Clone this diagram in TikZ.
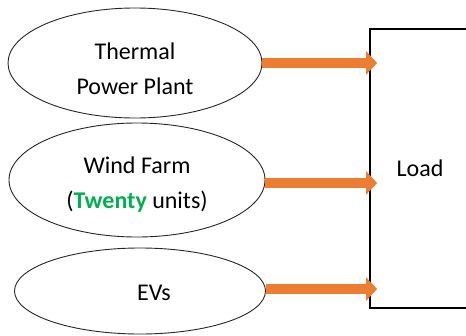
\documentclass[tikz,border=0pt]{standalone}
\usepackage{fontspec}
\setmainfont{Carlito}
\usetikzlibrary{shapes.geometric,arrows.meta}
\definecolor{Dorange}{HTML}{ED7D31}
\definecolor{Dgreen}{HTML}{00B050}
\tikzset{%
    Dsource/.style={shape=ellipse,draw=black!85,line width=0.9pt,inner sep=0pt},
    Dtext/.style={align=center,inner sep=0pt,font=\fontsize{24}{35}\selectfont},
    Dload/.style={shape=rectangle,draw=black,line width=1.8pt,inner sep=0pt,
        font=\fontsize{24}{35}\selectfont},
    Dflow/.style={draw=Dorange,line width=10pt,-{Triangle[length=11pt,width=23pt]},shorten >=-8pt}
}

\begin{document}
\begin{tikzpicture}[x=1pt,y=-1pt]
        \clip (0,0) rectangle (466,335);
        \path
            (135,63) node [Dsource,minimum width=254pt,minimum height=110pt,
                label={[Dtext,yshift=-6pt]center:Thermal\\Power Plant}] (thermal) {}
            (137,180) node [Dsource,minimum width=256pt,minimum height=114pt,
                label={[Dtext,yshift=-5pt]center:Wind Farm\\(\textcolor{Dgreen}{\textbf{Twenty}} units)}] (wind) {}
            (140,291) node [Dsource,minimum width=251pt,minimum height=86pt,
                label={[Dtext,xshift=14pt,yshift=-2pt]center:EVs}] (evs) {}
            (420,168.5) node [Dload,minimum width=100pt,minimum height=279pt] (load) {Load};
        \draw[Dflow] (thermal.east) -- (thermal.east -| load.west);
        \draw[Dflow] ([yshift=-3pt]wind.east) -- ([yshift=-3pt]wind.east -| load.west);
        \draw[Dflow] ([yshift=2pt]evs.east) -- ([yshift=2pt]evs.east -| load.west);
    \end{tikzpicture}
\end{document}
